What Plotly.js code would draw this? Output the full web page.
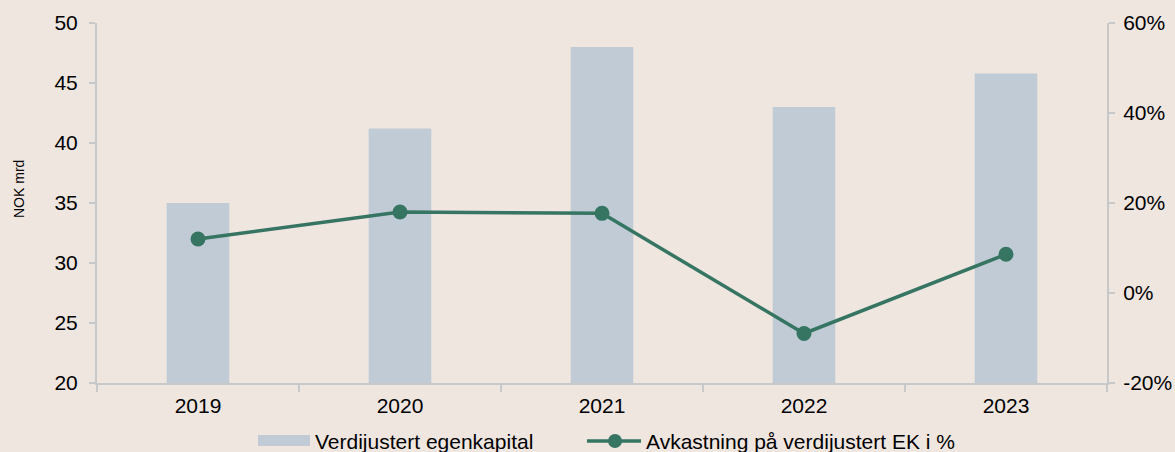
<!DOCTYPE html>
<html><head><meta charset="utf-8">
<script src="https://cdn.plot.ly/plotly-3.0.1.min.js"></script>
<style>body{margin:0;background:#EFE6E0;}</style>
</head><body>
<div id="chart" style="width:1175px;height:452px;"></div>
<script>
const years = ['2019', '2020', '2021', '2022', '2023'];
const equity = [35.0, 41.2, 48.0, 43.0, 45.8];
const returnPct = [12.0, 18.0, 17.7, -9.0, 8.6];
const pctTicks = [-20, 0, 20, 40, 60];
const pctTickLabels = ['-20%', '0%', '20%', '40%', '60%'];
const barName = 'Verdijustert egenkapital';
const lineName = 'Avkastning på verdijustert EK i %';
const yTitle = 'NOK mrd';

const font = {family: 'Liberation Sans, Arial, sans-serif', color: '#000'};
const axisColor = '#C8C8C8';
const barColor = '#C0CBD6';
const lineColor = '#367562';

const traces = [
  {type: 'bar', x: years, y: equity, name: barName, marker: {color: barColor}, width: 0.31, yaxis: 'y', showlegend: false},
  {type: 'scatter', mode: 'lines+markers', x: years, y: returnPct, name: lineName, yaxis: 'y2', showlegend: false,
   line: {color: lineColor, width: 3.5}, marker: {color: lineColor, size: 15}}
];

// custom legend (paper coordinates: plot spans x 97..1107, y 23..383)
const px = v => (v - 97) / 1010;
const py = v => (383 - v) / 360;
const legY = py(441);
const shapes = [
  {type: 'rect', xref: 'paper', yref: 'paper', x0: px(258), x1: px(310), y0: py(446), y1: py(435),
   fillcolor: barColor, line: {width: 0}},
  {type: 'line', xref: 'paper', yref: 'paper', x0: px(587), x1: px(641), y0: legY, y1: legY,
   line: {color: lineColor, width: 3.5}},
  {type: 'circle', xref: 'paper', yref: 'paper', x0: px(608), x1: px(622), y0: py(448), y1: py(434),
   fillcolor: lineColor, line: {width: 0}}
];
const annotations = [
  {xref: 'paper', yref: 'paper', x: px(313), y: legY, xanchor: 'left', yanchor: 'middle', showarrow: false,
   text: barName, font: Object.assign({size: 21}, font)},
  {xref: 'paper', yref: 'paper', x: px(644), y: legY, xanchor: 'left', yanchor: 'middle', showarrow: false,
   text: lineName, font: Object.assign({size: 21}, font)},
  {xref: 'paper', yref: 'paper', x: px(19), y: py(189), xanchor: 'center', yanchor: 'middle', showarrow: false,
   textangle: -90, text: yTitle, font: Object.assign({size: 14}, font)}
];

const layout = {
  width: 1175, height: 452,
  paper_bgcolor: '#EFE6E0', plot_bgcolor: '#EFE6E0',
  margin: {l: 97, r: 68, t: 23, b: 69},
  font: Object.assign({size: 21}, font),
  showlegend: false,
  shapes: shapes,
  annotations: annotations,
  xaxis: {type: 'category', showline: true, linecolor: axisColor, linewidth: 2, ticks: 'outside', tickson: 'boundaries',
          tickcolor: axisColor, tickwidth: 2, ticklen: 7, showgrid: false, zeroline: false,
          ticklabelstandoff: 3, tickfont: Object.assign({size: 21}, font)},
  yaxis: {range: [20, 50], dtick: 5, showline: true, linecolor: axisColor, linewidth: 2, ticks: 'outside',
          tickcolor: axisColor, tickwidth: 2, ticklen: 6, showgrid: false, zeroline: false,
          ticklabelstandoff: 7, tickfont: Object.assign({size: 21}, font)},
  yaxis2: {range: [-20, 60], tickmode: 'array', tickvals: pctTicks, ticktext: pctTickLabels,
           overlaying: 'y', side: 'right', showline: true, linecolor: axisColor, linewidth: 2,
           ticks: 'outside', tickcolor: axisColor, tickwidth: 2, ticklen: 6, showgrid: false, zeroline: false,
           ticklabelstandoff: 4, tickfont: Object.assign({size: 21}, font)}
};

Plotly.newPlot('chart', traces, layout, {displayModeBar: false, staticPlot: true});
</script>
</body></html>
